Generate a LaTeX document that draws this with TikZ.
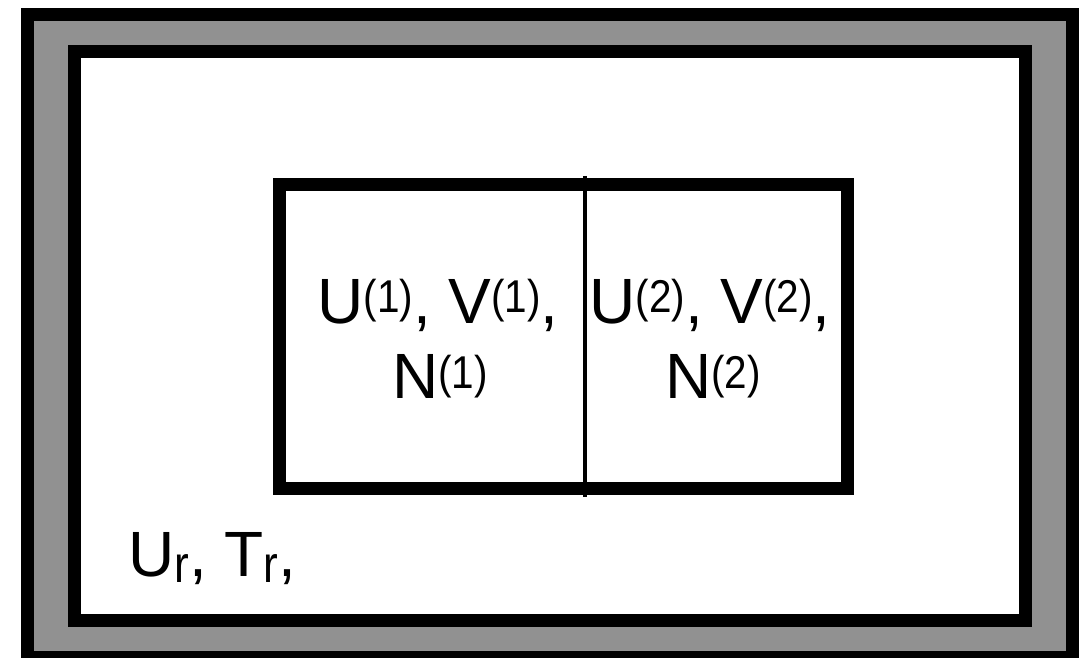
\documentclass[tikz,border=0pt]{standalone}
\usepackage{fontspec}
\setmainfont{Liberation Sans}
\definecolor{casing}{RGB}{145,145,145}
\newcommand\upidx[1]{\raisebox{10pt}{\scalebox{0.88}[1]{\fontsize{46}{46}\selectfont #1}}}
\newcommand\lowidx[1]{\raisebox{-6pt}{\scalebox{0.85}[1]{\fontsize{52}{52}\selectfont #1}}}

\begin{document}
\begin{tikzpicture}[x=1pt,y=-1pt,
  frame/.style={black,line width=13pt},
  divider/.style={black,line width=3.5pt},
  every node/.style={font=\fontsize{64}{75}\selectfont,inner sep=0pt,anchor=base}]
  \useasboundingbox (0,0) rectangle (1088,658);
  % grey casing between two black frames
  \fill[black] (21,8) rectangle (1079,658);
  \fill[casing] (34,21) rectangle (1066,651);
  \draw[frame,fill=white] (74.5,51.5) rectangle (1025.5,620.5);

  % the two subsystems
  \draw[frame] (279,184.5) rectangle (847,488.5);
  \coordinate (dtop) at (585,176);
  \coordinate (dbot) at (585,497);
  \draw[divider] (dtop) -- (dbot);

  \node (sysA) at (438,323) {U\upidx{(1)}, V\upidx{(1)},};
  \node (sysAn) at (440,398) {N\upidx{(1)}};
  \node (sysB) at (710,323) {U\upidx{(2)}, V\upidx{(2)},};
  \node (sysBn) at (713,398) {N\upidx{(2)}};

  % reservoir
  \node[anchor=base west] (res) at (128,576) {U\lowidx{r}, T\lowidx{r},};
\end{tikzpicture}
\end{document}
